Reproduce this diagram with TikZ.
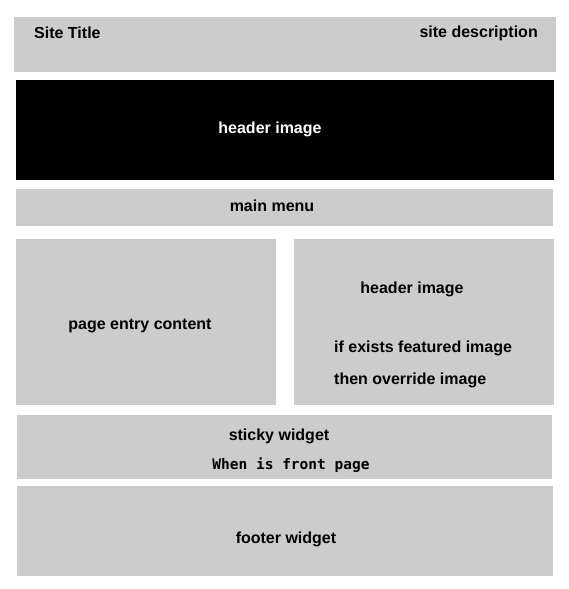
\documentclass[tikz,border=0pt]{standalone}
\usepackage{fontspec}
\setmainfont{Liberation Sans}
\newfontfamily\codefont{DejaVu Sans Mono}
\usepackage{tikz}
\definecolor{WireframeGray}{RGB}{204,204,204}

\begin{document}
\begin{tikzpicture}[x=1pt,y=-1pt,
area/.style n args={3}{fill=#1,minimum width=#2pt,minimum height=#3pt,inner sep=0pt,rectangle},
lbl/.style={inner sep=0pt,font=\fontsize{16}{19}\selectfont\bfseries,anchor=base},
code/.style={inner sep=0pt,font=\fontsize{14.5}{17}\selectfont\codefont\bfseries,anchor=base}]
\useasboundingbox (0,0) rectangle (569,589);
% boxes of the page layout
\node[area={WireframeGray}{542}{55}](title) at (285,44.5) {};
\node[area={black}{538}{100}](header) at (285,130) {};
\node[area={WireframeGray}{537}{37}](menu) at (284.5,207.5) {};
\node[area={WireframeGray}{260}{166}](content) at (146,322) {};
\node[area={WireframeGray}{260}{166}](side) at (424,322) {};
\node[area={WireframeGray}{535}{64}](sticky) at (284.5,447) {};
\node[area={WireframeGray}{536}{90}](footer) at (285,531) {};
% texts
\node[lbl,anchor=base west](sitetitle) at (34,38) {Site Title};
\node[lbl,anchor=base east](sitedesc) at (538,37) {site description};
\node[lbl,white](headertxt) at (270,133) {header image};
\node[lbl](menutxt) at (272,211) {main menu};
\node[lbl](contenttxt) at (140,329) {page entry content};
\node[lbl](sidetxt) at (412,293) {header image};
\node[lbl,anchor=base west](feat) at (334,352) {if exists featured image};
\node[lbl,anchor=base west](over) at (334,384) {then override image};
\node[lbl](stickytxt) at (279,440) {sticky widget};
\node[code](front) at (291,469) {When is front page};
\node[lbl](footertxt) at (286,543) {footer widget};
\end{tikzpicture}
\end{document}
